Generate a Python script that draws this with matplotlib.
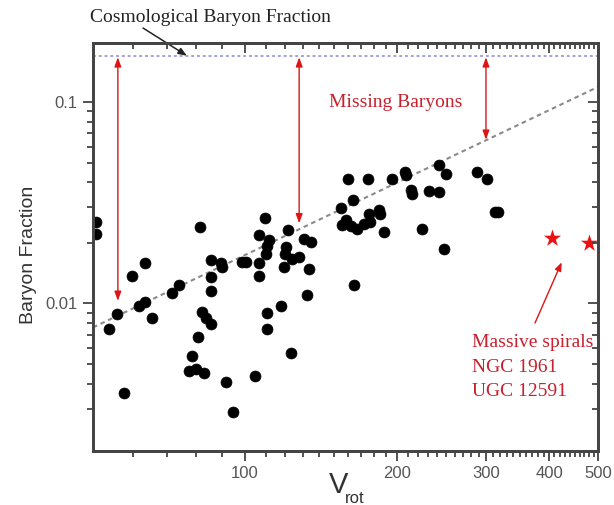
import matplotlib
matplotlib.use("Agg")
import matplotlib.pyplot as plt
from matplotlib.ticker import FixedLocator, FixedFormatter, NullFormatter

# Galaxy sample: rotation velocity (km/s) and baryon fraction
v_rot = [50.6, 50.6, 81.4, 63.5, 59.6, 74.0, 71.8, 85.5, 85.5, 85.5,
         89.5, 90.0, 98.6, 100.5, 106.6, 109.4, 111.6, 110.7, 109.9, 106.6,
         106.6, 121.9, 120.4, 120.0, 119.5, 124.1, 128.0, 131.0, 135.0, 134.0,
         132.9, 117.7, 110.7, 61.6, 63.5, 55.8, 65.5, 82.3, 83.6, 85.5,
         53.7, 110.7, 80.8, 78.6, 77.4, 79.8, 82.8, 91.6, 94.8, 104.7,
         123.6, 57.5, 160.1, 174.8, 195.1, 207.7, 208.0, 242.6, 250.1, 287.7,
         301.1, 312.0, 317.0, 163.8, 154.8, 213.2, 214.2, 231.8, 242.6, 184.4,
         185.3, 176.2, 177.0, 172.2, 158.4, 155.5, 162.1, 167.0, 188.7, 223.8,
         248.2, 164.0]
f_bar = [0.0254, 0.0222, 0.0240, 0.0159, 0.0137, 0.0124, 0.0113, 0.0164, 0.0135, 0.0115,
         0.0159, 0.0151, 0.0160, 0.0160, 0.0220, 0.0266, 0.0207, 0.0194, 0.0177, 0.0158,
         0.0137, 0.0231, 0.0191, 0.0177, 0.0152, 0.0167, 0.0170, 0.0210, 0.0202, 0.0149,
         0.0110, 0.0097, 0.0090, 0.0097, 0.0102, 0.0089, 0.0085, 0.0091, 0.0085, 0.0079,
         0.0075, 0.0075, 0.00685, 0.00551, 0.00464, 0.00473, 0.00452, 0.00409, 0.00290, 0.00435,
         0.00566, 0.00358, 0.0413, 0.0414, 0.0413, 0.0450, 0.0433, 0.0486, 0.0442, 0.0450,
         0.0414, 0.0285, 0.0285, 0.0328, 0.0299, 0.0368, 0.0349, 0.0362, 0.0358, 0.0290,
         0.0279, 0.0277, 0.0254, 0.0249, 0.0259, 0.0244, 0.0242, 0.0235, 0.0226, 0.0233,
         0.0186, 0.0124]

# Massive spirals NGC 1961 and UGC 12591
spiral_v = [405, 480]
spiral_f = [0.0211, 0.0199]

# Cosmological baryon fraction and power-law trend
f_cosmo = 0.17
fit_v = [50, 500]
fit_f = [0.0076, 0.119]

# Missing-baryon gap markers
gap_v = [56, 128, 300]
gap_low = [0.0103, 0.025, 0.065]
gap_high = 0.167

x_major = [100, 200, 300, 400, 500]
x_major_labels = ["100", "200", "300", "400", "500"]
x_minor = [v for v in range(60, 500, 10) if v % 100 != 0]
y_major = [0.01, 0.1]
y_major_labels = ["0.01", "0.1"]
y_minor = [0.003, 0.004, 0.005, 0.006, 0.007, 0.008, 0.009,
           0.02, 0.03, 0.04, 0.05, 0.06, 0.07, 0.08, 0.09]

SANS = "Liberation Sans"
SERIF = "Liberation Serif"
RED_TXT = "#c8202e"
RED_ARW = "#dd1515"
AX_COL = "#444444"
TICK_TXT = "#555555"

fig = plt.figure(figsize=(6.14, 5.05), dpi=100)
W, H = 614, 505
ax = fig.add_axes([93 / W, 1 - 451 / H, (598 - 93) / W, (451 - 43) / H])
ax.set_xscale("log")
ax.set_yscale("log")
xlim = (50, 500)
ylim = (0.00185, 0.1966)
ax.set_xlim(*xlim)
ax.set_ylim(*ylim)

# cosmological fraction
ax.plot(xlim, [f_cosmo, f_cosmo], color="#9a9ae0", lw=1.3,
        linestyle=(0, (1.6, 1.6)), zorder=2)
# trend line
ax.plot(fit_v, fit_f, color="#8a8a8a", lw=1.5, linestyle=(0, (2.2, 1.8)), zorder=2)

# data
ax.scatter(v_rot, f_bar, s=62, color="black", edgecolors="black", linewidths=0.5, zorder=4)
ax.scatter(spiral_v, spiral_f, s=170, marker="*", color="#ee1111", linewidths=0, zorder=4)

# gap arrows
for v, lo in zip(gap_v, gap_low):
    ax.annotate("", xy=(v, lo), xytext=(v, gap_high),
                arrowprops=dict(arrowstyle="<|-|>,head_length=0.55,head_width=0.2",
                                color=RED_ARW, lw=1.0, shrinkA=0, shrinkB=0), zorder=3)

# ticks
for axis_obj, major, labels, minor in ((ax.xaxis, x_major, x_major_labels, x_minor),
                                        (ax.yaxis, y_major, y_major_labels, y_minor)):
    axis_obj.set_major_locator(FixedLocator(major))
    axis_obj.set_major_formatter(FixedFormatter(labels))
    axis_obj.set_minor_locator(FixedLocator(minor))
    axis_obj.set_minor_formatter(NullFormatter())

ax.tick_params(which="both", direction="out", color=AX_COL, width=1.3,
               labelsize=12, labelcolor=TICK_TXT, pad=4)
ax.tick_params(which="major", length=7)
ax.tick_params(which="minor", length=4)
for lab in ax.get_xticklabels() + ax.get_yticklabels():
    lab.set_fontfamily(SANS)

# mirrored inward ticks on top and right
axt = ax.twiny()
axt.set_xscale("log")
axt.set_xlim(*xlim)
axt.xaxis.set_major_locator(FixedLocator(x_major))
axt.xaxis.set_minor_locator(FixedLocator(x_minor))
axt.xaxis.set_major_formatter(NullFormatter())
axt.xaxis.set_minor_formatter(NullFormatter())
axt.tick_params(which="both", direction="in", color=AX_COL, width=1.3)
axt.tick_params(which="major", length=7)
axt.tick_params(which="minor", length=4)
axr = ax.twinx()
axr.set_yscale("log")
axr.set_ylim(*ylim)
axr.yaxis.set_major_locator(FixedLocator(y_major))
axr.yaxis.set_minor_locator(FixedLocator(y_minor))
axr.yaxis.set_major_formatter(NullFormatter())
axr.yaxis.set_minor_formatter(NullFormatter())
axr.tick_params(which="both", direction="in", color=AX_COL, width=1.3)
axr.tick_params(which="major", length=7)
axr.tick_params(which="minor", length=4)

for a in (ax, axt, axr):
    for sp in a.spines.values():
        sp.set_color(AX_COL)
        sp.set_linewidth(1.8)

# axis labels
fig.text(28.5 / W, 1 - 255 / H, "Baryon Fraction", rotation=90, ha="center",
         va="center", fontsize=14, family=SANS, color="#333333")
fig.text(329 / W, 1 - 493 / H, "V", ha="left", va="baseline",
         fontsize=21, family=SANS, color="#333333")
fig.text(345 / W, 1 - 503 / H, "rot", ha="left", va="baseline",
         fontsize=12, family=SANS, color="#333333")

# annotations
fig.text(90 / W, 1 - 18 / H, "Cosmological Baryon Fraction", ha="left", va="center",
         fontsize=14, family=SERIF, color="#222222")
ax.annotate("", xy=(76.7, f_cosmo), xytext=(143, H - 28), textcoords="figure pixels",
            arrowprops=dict(arrowstyle="-|>,head_length=0.5,head_width=0.2",
                            color="#222222", lw=1.1, shrinkA=0, shrinkB=0))
ax.text(199, 0.1, "Missing Baryons", ha="center", va="center", fontsize=14,
        family=SERIF, color=RED_TXT)

for i, line in enumerate(["Massive spirals", "NGC 1961", "UGC 12591"]):
    fig.text(472 / W, 1 - (347 + i * 24.5) / H, line, ha="left", va="baseline",
             fontsize=14, family=SERIF, color=RED_TXT)
ax.annotate("", xy=(423.6, 0.016), xytext=(535, H - 323), textcoords="figure pixels",
            arrowprops=dict(arrowstyle="-|>,head_length=0.5,head_width=0.2",
                            color=RED_ARW, lw=1.0, shrinkA=0, shrinkB=0))

fig.savefig("out.png", dpi=100)
